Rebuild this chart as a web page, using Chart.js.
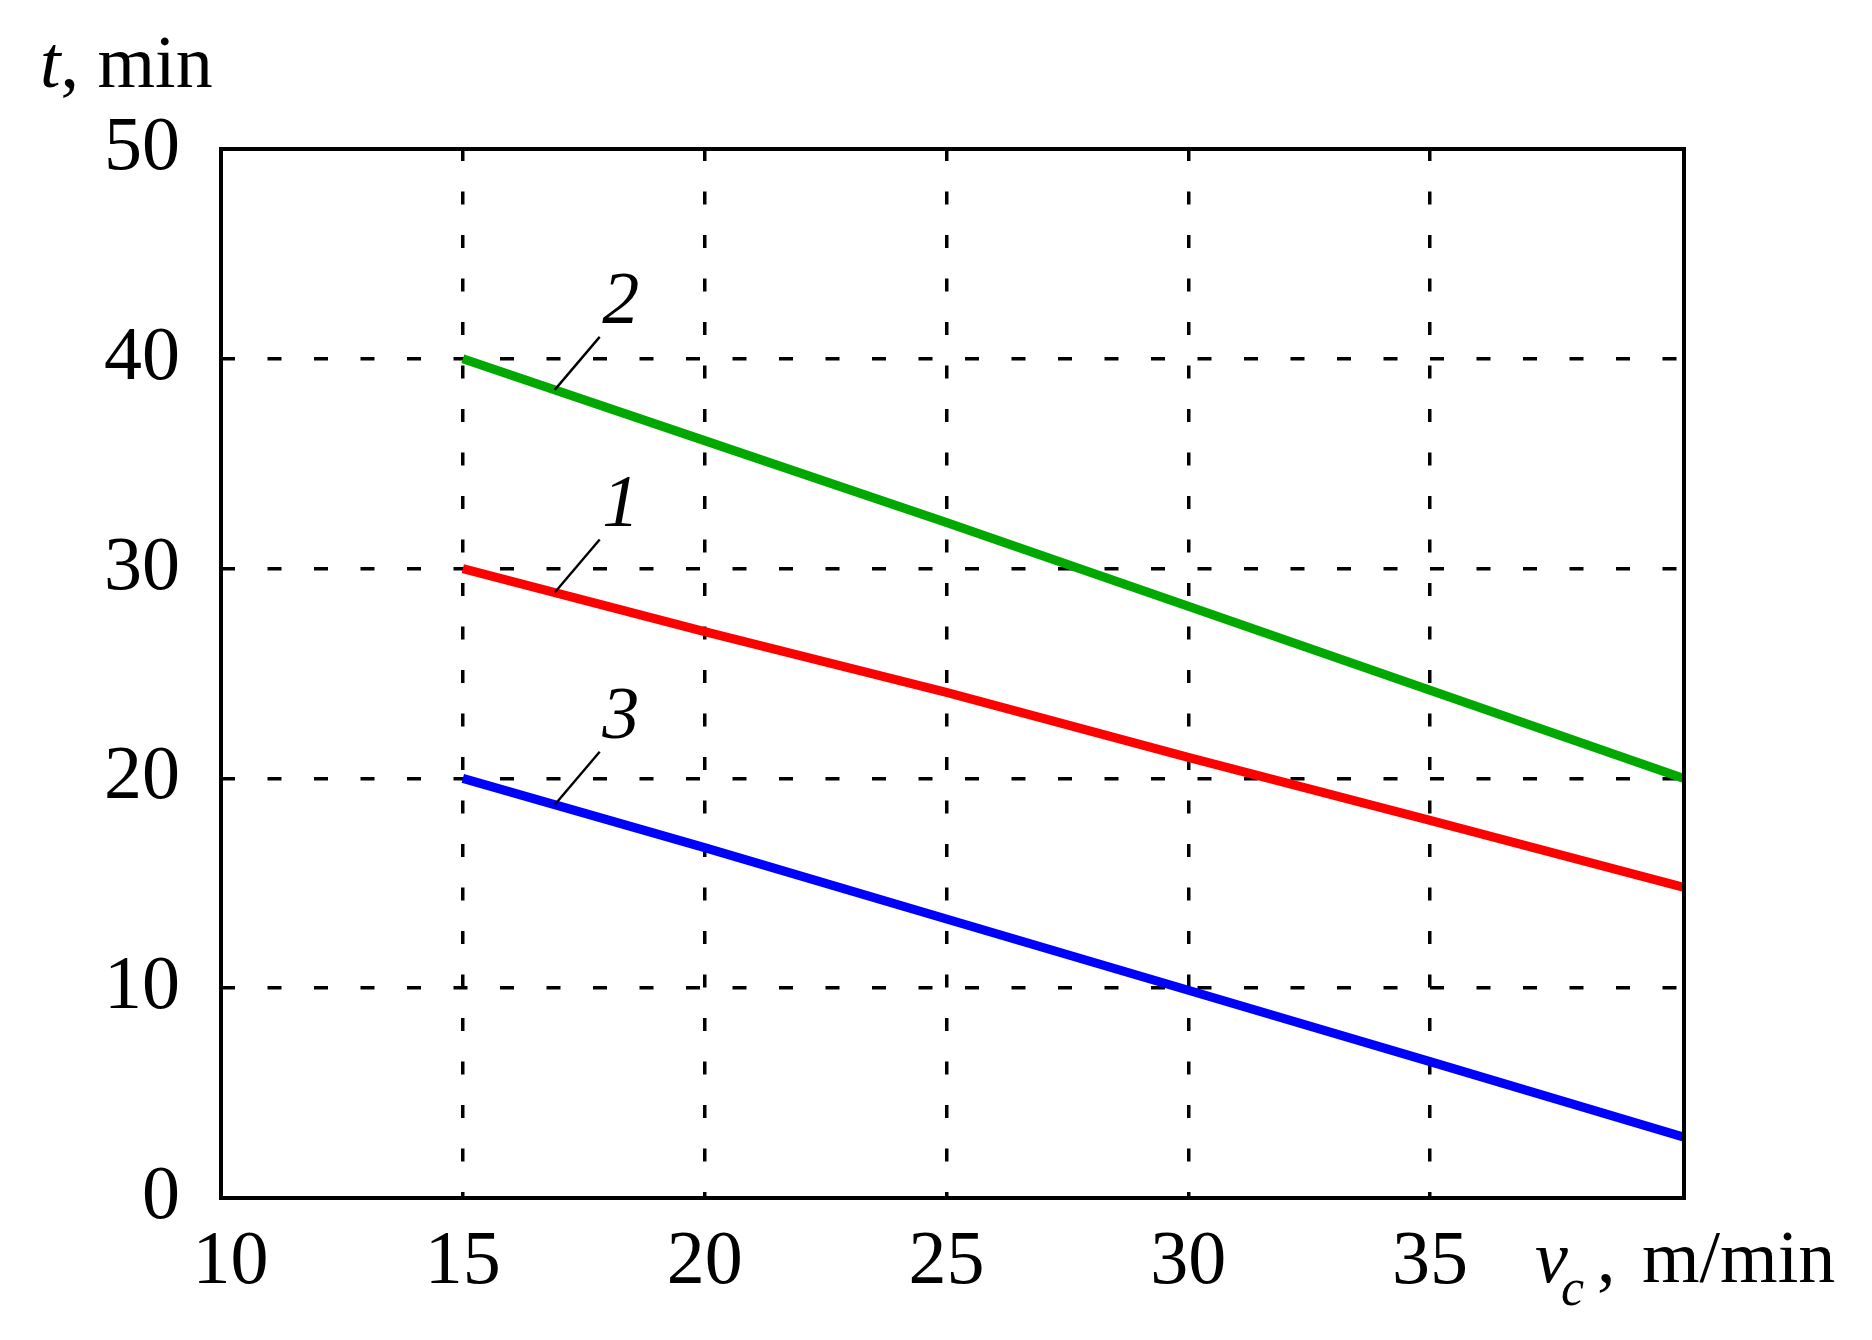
<!DOCTYPE html>
<html>
<head>
<meta charset="utf-8">
<script src="https://cdn.jsdelivr.net/npm/chart.js@4.4.1/dist/chart.umd.min.js"></script>
<style>
  html, body { margin: 0; padding: 0; background: #fff; }
  #wrap { width: 1872px; height: 1340px; }
</style>
</head>
<body>
<div id="wrap"><canvas id="c" width="1872" height="1340"></canvas></div>
<script>
// ---- data ----
const xValues = [15, 20, 25, 30, 35, 40.25];          // v_c, m/min
const curve1 = [30.0, 27.0, 24.1, 21.0, 18.0, 14.8];   // red, label 1
const curve2 = [40.0, 36.1, 32.2, 28.2, 24.2, 20.0];   // green, label 2
const curve3 = [20.0, 16.7, 13.3, 9.9, 6.5, 2.9];      // blue, label 3
const xTickValues = [10, 15, 20, 25, 30, 35];
const yTickValues = [0, 10, 20, 30, 40, 50];
const curveNames = ['1', '2', '3'];
const yTitle = ['t', ', min'];
const xTitle = ['v', 'c', ',', 'm/min'];

const FONT = '"Liberation Serif", "Times New Roman", serif';
const colors = ['#ff0000', '#00a800', '#0000ff'];
const seriesList = [curve1, curve2, curve3];

const datasets = seriesList.map((s, i) => ({
  label: curveNames[i],
  data: xValues.map((x, k) => ({ x: x, y: s[k] })),
  borderColor: colors[i],
  borderWidth: 9,
  borderCapStyle: 'butt',
  pointRadius: 0,
  fill: false,
  tension: 0
}));

function valueAt(series, x) {
  for (let k = 0; k < xValues.length - 1; k++) {
    if (x >= xValues[k] && x <= xValues[k + 1]) {
      const t = (x - xValues[k]) / (xValues[k + 1] - xValues[k]);
      return series[k] + t * (series[k + 1] - series[k]);
    }
  }
  return series[0];
}

const decorPlugin = {
  id: 'decor',
  afterDraw(chart) {
    const ctx = chart.ctx;
    const a = chart.chartArea;
    const xs = chart.scales.x, ys = chart.scales.y;
    ctx.save();
    // frame
    ctx.strokeStyle = '#000';
    ctx.lineWidth = 4;
    ctx.setLineDash([]);
    ctx.strokeRect(a.left, a.top, a.right - a.left, a.bottom - a.top);

    // curve labels with leaders
    const anchorX = 16.9;
    seriesList.forEach((s, i) => {
      const v = valueAt(s, anchorX);
      const px = xs.getPixelForValue(anchorX);
      const py = ys.getPixelForValue(v);
      ctx.beginPath();
      ctx.lineWidth = 2.4;
      ctx.strokeStyle = '#000';
      ctx.moveTo(px, py);
      ctx.lineTo(px + 45, py - 53);
      ctx.stroke();
      ctx.fillStyle = '#000';
      ctx.font = 'italic 74px ' + FONT;
      ctx.textAlign = 'center';
      ctx.textBaseline = 'alphabetic';
      ctx.fillText(curveNames[i], px + 66, py - 67);
    });

    // y title
    ctx.textAlign = 'left';
    ctx.textBaseline = 'alphabetic';
    ctx.fillStyle = '#000';
    ctx.font = 'italic 74px ' + FONT;
    ctx.fillText(yTitle[0], 40, 87);
    let w = ctx.measureText(yTitle[0]).width;
    ctx.font = '74px ' + FONT;
    ctx.fillText(yTitle[1], 40 + w, 87);

    // x title
    ctx.font = 'italic 74px ' + FONT;
    ctx.fillText(xTitle[0], 1535, 1282);
    ctx.font = 'italic 52px ' + FONT;
    ctx.fillText(xTitle[1], 1561, 1305);
    ctx.font = '74px ' + FONT;
    ctx.fillText(xTitle[2], 1597, 1282);
    ctx.fillText(xTitle[3], 1642, 1282);
    ctx.restore();
  }
};

new Chart(document.getElementById('c'), {
  type: 'line',
  data: { datasets: datasets },
  options: {
    responsive: false,
    animation: false,
    devicePixelRatio: 1,
    layout: { padding: { top: 149, right: 188, left: 0, bottom: 0 } },
    plugins: { legend: { display: false }, tooltip: { enabled: false } },
    scales: {
      x: {
        type: 'linear',
        min: 10,
        max: 40.25,
        afterBuildTicks: (s) => { s.ticks = xTickValues.map(v => ({ value: v })); },
        afterFit: (s) => { s.height = 142; },
        grid: { color: '#000', lineWidth: 3.5, drawTicks: false },
        border: { display: false, dash: [13, 30.5], dashOffset: 1 },
        ticks: {
          color: '#000', font: { family: FONT, size: 76 }, padding: 19, maxRotation: 0, autoSkip: false,
          callback: (v) => (v === xTickValues[0] ? ' ' + v : String(v))
        }
      },
      y: {
        type: 'linear',
        min: 0,
        max: 50,
        afterBuildTicks: (s) => { s.ticks = yTickValues.map(v => ({ value: v })); },
        afterFit: (s) => { s.width = 221; },
        grid: { color: '#000', lineWidth: 3.5, drawTicks: false },
        border: { display: false, dash: [14, 32.5] },
        ticks: { color: '#000', font: { family: FONT, size: 76 }, padding: 41, autoSkip: false }
      }
    }
  },
  plugins: [decorPlugin]
});
</script>
</body>
</html>
